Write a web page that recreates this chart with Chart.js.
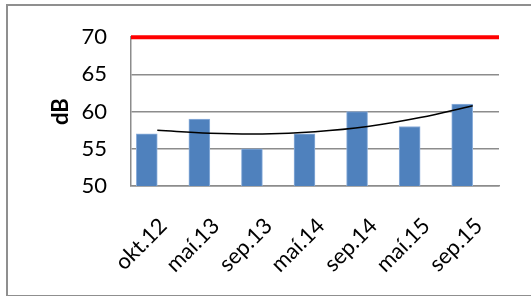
<!DOCTYPE html>
<html>
<head>
<meta charset="utf-8">
<script src="https://cdn.jsdelivr.net/npm/chart.js@4.4.0/dist/chart.umd.min.js"></script>
<style>
  html, body { margin: 0; padding: 0; background: #fff; overflow: hidden; }
  #wrap { position: relative; width: 531px; height: 296px; }
  #frame { position: absolute; left: 6px; top: 4px; width: 600px; height: 289px; border: 2px solid #8f8f8f; }
  canvas { position: absolute; left: 0; top: 0; }
</style>
</head>
<body>
<div id="wrap">
  <div id="frame"></div>
  <canvas id="myChart" width="531" height="296"></canvas>
</div>
<script>
// categories and values
var categories = ['okt.12', 'maí.13', 'sep.13', 'maí.14', 'sep.14', 'maí.15', 'sep.15'];
var dbValues = [57, 59, 55, 57, 60, 58, 61];
// trendline as read at each category
var trendValues = [57.5, 57.1, 57.0, 57.3, 58.0, 59.2, 60.8];
// limit line (70 dB), start and end of the plot
var limitValues = [70, 70];
var yTicks = [50, 55, 60, 65, 70];

var FONT = 'Lato, "Open Sans", sans-serif';
var GRID = '#8c8c8c';

var ctx = document.getElementById('myChart');
const config = {
  type: 'bar',
  data: {
    labels: categories,
    datasets: [
      {
        label: 'dB',
        data: dbValues,
        backgroundColor: '#4f81bd',
        borderColor: '#8eb0dc',
        borderWidth: 1,
        barThickness: 21,
        order: 3
      },
      {
        type: 'line',
        label: 'trend',
        data: trendValues,
        borderColor: '#000000',
        borderWidth: 1.5,
        pointRadius: 0,
        tension: 0.4,
        order: 2
      },
      {
        type: 'line',
        label: 'limit',
        data: limitValues.map((v, i) => ({x: i, y: v})),
        xAxisID: 'x2',
        borderColor: '#ff0000',
        borderWidth: 4,
        pointRadius: 0,
        clip: false,
        order: 1
      }
    ]
  },
  options: {
    responsive: false,
    animation: false,
    layout: { padding: { left: 48, right: 32, top: 34, bottom: 0 } },
    plugins: {
      legend: { display: false },
      tooltip: { enabled: false }
    },
    scales: {
      x: {
        offset: true,
        stacked: true,
        grid: { display: false },
        border: { color: GRID, width: 1.5 },
        ticks: {
          color: '#000',
          font: { family: FONT, size: 22 },
          maxRotation: 45,
          minRotation: 45,
          padding: 19,
          labelOffset: 6
        },
        afterFit: function (scale) { scale.height = 110; }
      },
      x2: {
        type: 'linear',
        display: false,
        offset: false,
        min: 0,
        max: 1
      },
      y: {
        min: 50,
        max: 70,
        stacked: false,
        afterBuildTicks: function (scale) { scale.ticks = yTicks.map(v => ({value: v})); },
        grid: { color: GRID, lineWidth: 1.5, drawTicks: false },
        border: { color: GRID, width: 1.5 },
        ticks: {
          color: '#000',
          font: { family: FONT, size: 22 },
          padding: 24
        },
        title: {
          display: true,
          text: 'dB',
          color: '#000',
          font: { family: FONT, size: 22, weight: 'bold' },
          padding: 0
        },
        afterFit: function (scale) { scale.width = 131 - 48; }
      }
    }
  }
};

var chart = new Chart(ctx, config);
</script>
</body>
</html>
